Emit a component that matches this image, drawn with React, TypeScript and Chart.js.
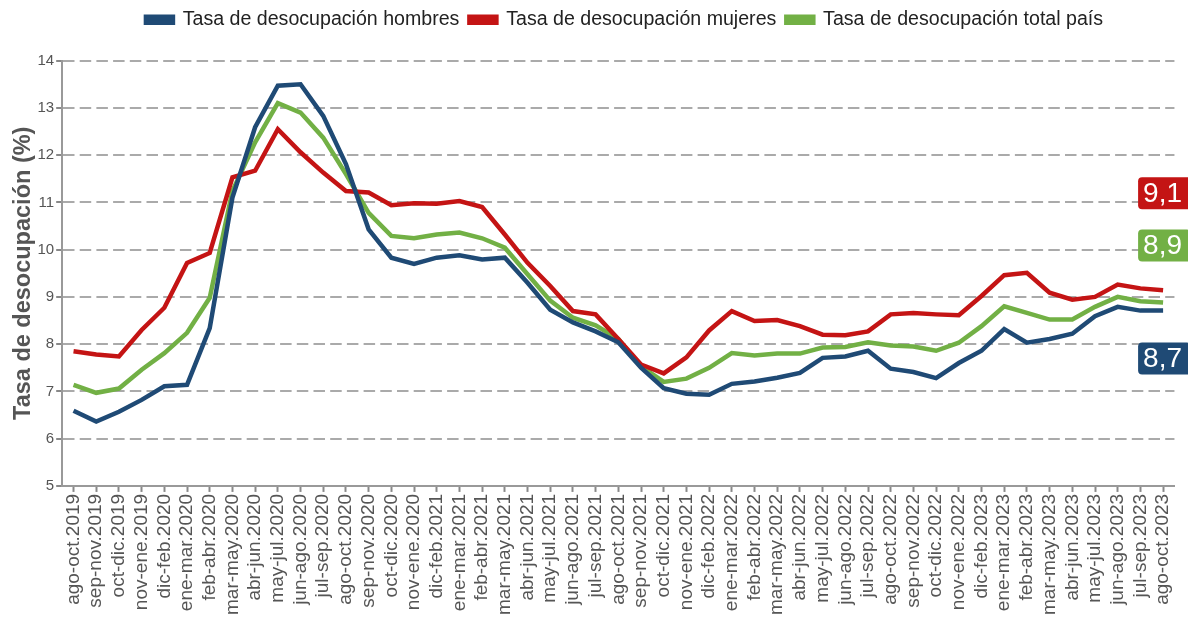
import React, { useEffect, useRef } from "react";
import { Chart, registerables } from "chart.js";

Chart.register(...registerables);

const categories = [
  "ago-oct.2019", "sep-nov.2019", "oct-dic.2019", "nov-ene.2019", "dic-feb.2020", "ene-mar.2020",
  "feb-abr.2020", "mar-may.2020", "abr-jun.2020", "may-jul.2020", "jun-ago.2020", "jul-sep.2020",
  "ago-oct.2020", "sep-nov.2020", "oct-dic.2020", "nov-ene.2020", "dic-feb.2021", "ene-mar.2021",
  "feb-abr.2021", "mar-may.2021", "abr-jun.2021", "may-jul.2021", "jun-ago.2021", "jul-sep.2021",
  "ago-oct.2021", "sep-nov.2021", "oct-dic.2021", "nov-ene.2021", "dic-feb.2022", "ene-mar.2022",
  "feb-abr.2022", "mar-may.2022", "abr-jun.2022", "may-jul.2022", "jun-ago.2022", "jul-sep.2022",
  "ago-oct.2022", "sep-nov.2022", "oct-dic.2022", "nov-ene.2022", "dic-feb.2023", "ene-mar.2023",
  "feb-abr.2023", "mar-may.2023", "abr-jun.2023", "may-jul.2023", "jun-ago.2023", "jul-sep.2023",
  "ago-oct.2023",
];

const hombres = [
  6.59, 6.36, 6.57, 6.82, 7.11, 7.14, 8.34, 11.1, 12.59, 13.47, 13.5, 12.83,
  11.81, 10.43, 9.83, 9.7, 9.83, 9.88, 9.79, 9.83, 9.3, 8.73, 8.46, 8.27,
  8.04, 7.5, 7.07, 6.95, 6.93, 7.16, 7.21, 7.29, 7.39, 7.71, 7.74, 7.86,
  7.48, 7.41, 7.28, 7.6, 7.86, 8.32, 8.03, 8.11, 8.22, 8.59, 8.79, 8.71,
  8.71,
];

const mujeres = [
  7.85, 7.78, 7.74, 8.3, 8.77, 9.72, 9.93, 11.53, 11.67, 12.55, 12.06, 11.63,
  11.24, 11.21, 10.94, 10.98, 10.97, 11.03, 10.9, 10.32, 9.72, 9.23, 8.7, 8.63,
  8.11, 7.57, 7.38, 7.72, 8.29, 8.7, 8.49, 8.51, 8.38, 8.2, 8.19, 8.27,
  8.63, 8.66, 8.63, 8.61, 9.02, 9.46, 9.51, 9.09, 8.94, 9.0, 9.26, 9.18,
  9.14,
];

const total = [
  7.14, 6.97, 7.06, 7.46, 7.81, 8.24, 8.98, 11.24, 12.27, 13.1, 12.9, 12.37,
  11.6, 10.78, 10.29, 10.24, 10.32, 10.36, 10.24, 10.04, 9.48, 8.92, 8.56, 8.4,
  8.11, 7.53, 7.2, 7.27, 7.5, 7.81, 7.76, 7.8, 7.8, 7.93, 7.94, 8.04,
  7.97, 7.95, 7.86, 8.03, 8.38, 8.8, 8.66, 8.52, 8.52, 8.79, 9.0, 8.91,
  8.88,
];

const lastLabels = ["8,7", "9,1", "8,9"];
const seriesNames = [
  "Tasa de desocupación hombres",
  "Tasa de desocupación mujeres",
  "Tasa de desocupación total país",
];
const colors = ["#1f4a75", "#c41414", "#72b045"];
const yTicks = [5, 6, 7, 8, 9, 10, 11, 12, 13, 14];

// vertical offset (px) of each end-label box relative to the last point
const labelOffsets = [48, -97, -57];
// legend placement adjustment (px)
const legendShift = { x: 35, y: -21 };

const FONT = "'Liberation Sans', Arial, sans-serif";

const legendMovePlugin = {
  id: "legendMove",
  afterLayout(chart: any) {
    const lg = chart.legend;
    if (!lg) return;
    lg.left += legendShift.x;
    lg.right += legendShift.x;
    lg.top += legendShift.y;
    lg.bottom += legendShift.y;
  },
};

const endLabelPlugin = {
  id: "endLabels",
  afterDraw(chart: any) {
    const ctx = chart.ctx;
    ctx.save();
    chart.data.datasets.forEach((ds: any, i: number) => {
      const meta = chart.getDatasetMeta(i);
      const pt = meta.data[meta.data.length - 1];
      if (!pt) return;
      const text = lastLabels[i];
      ctx.font = "28px " + FONT;
      const w = ctx.measureText(text).width + 14;
      const h = 32;
      const x = pt.x - 25;
      const cy = pt.y + labelOffsets[i];
      const y = cy - h / 2;
      ctx.fillStyle = colors[i];
      ctx.beginPath();
      (ctx as any).roundRect(x, y, w, h, 4);
      ctx.fill();
      ctx.fillStyle = "#ffffff";
      ctx.textBaseline = "middle";
      ctx.textAlign = "left";
      ctx.fillText(text, x + 5, cy + 1);
    });
    ctx.restore();
  },
};

export default function App() {
  const ref = useRef<HTMLCanvasElement | null>(null);

  useEffect(() => {
    document.body.style.margin = "0";
    const canvas = ref.current;
    if (!canvas) return;
    const series = [hombres, mujeres, total];
    const chart = new Chart(canvas, {
      type: "line",
      data: {
        labels: categories,
        datasets: series.map((d, i) => ({
          label: seriesNames[i],
          data: d,
          borderColor: colors[i],
          backgroundColor: colors[i],
          borderWidth: 4.5,
          pointRadius: 0,
          tension: 0,
          fill: false,
        })),
      },
      options: {
        responsive: false,
        animation: false,
        layout: { padding: { top: 21, right: 10, left: 1, bottom: 3 } },
        plugins: {
          legend: {
            position: "top",
            labels: {
              boxWidth: 27,
              boxHeight: 6,
              color: "#222",
              font: { family: FONT, size: 19.6 },
              padding: 10,
            },
          },
          tooltip: { enabled: false },
        },
        scales: {
          x: {
            offset: true,
            grid: {
              drawOnChartArea: false,
              drawTicks: true,
              tickLength: 6,
              tickColor: "#888",
              tickWidth: 2,
            },
            border: { display: true, color: "#999", width: 2 },
            ticks: {
              autoSkip: false,
              maxRotation: 90,
              minRotation: 90,
              color: "#555",
              font: { family: FONT, size: 19 },
              padding: 2,
            },
          },
          y: {
            min: 5,
            max: 14,
            afterBuildTicks: (axis: any) => {
              axis.ticks = yTicks.map((v) => ({ value: v }));
            },
            grid: {
              color: "#aaa",
              lineWidth: 2,
              drawTicks: true,
              tickLength: 6,
              tickColor: "#888",
              tickWidth: 2,
            },
            border: { display: true, color: "#999", width: 2, dash: [11.5, 5.2] },
            ticks: {
              color: "#555",
              font: { family: FONT, size: 15 },
              padding: 2,
            },
            title: {
              display: true,
              text: "Tasa de desocupación (%)",
              color: "#555",
              font: { family: FONT, size: 23.5, weight: "bold", lineHeight: 1 },
              padding: { top: 11, bottom: 0 },
            },
          },
        },
      },
      plugins: [legendMovePlugin, endLabelPlugin],
    });
    return () => chart.destroy();
  }, []);

  return (
    <div style={{ width: 1188, height: 620 }}>
      <canvas ref={ref} width={1188} height={620} style={{ display: "block" }} />
    </div>
  );
}
